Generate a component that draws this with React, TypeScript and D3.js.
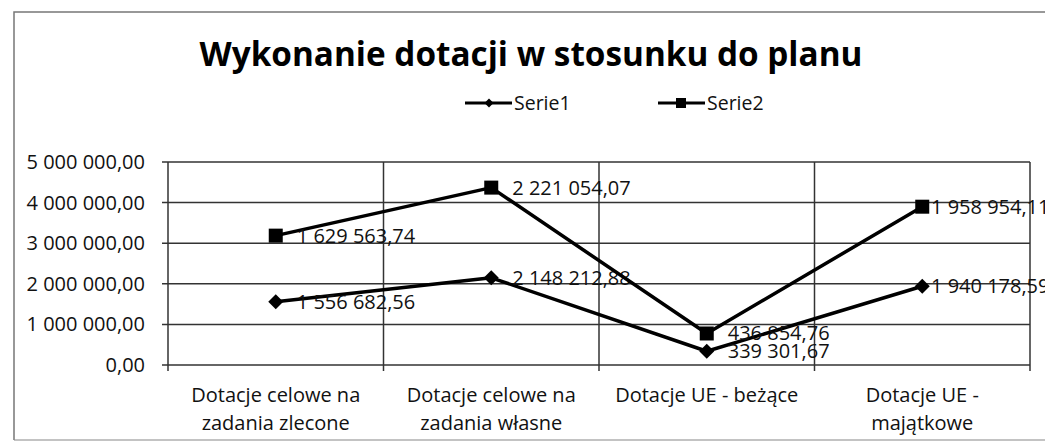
import React from "react";
import * as d3 from "d3";

const title = "Wykonanie dotacji w stosunku do planu";
const categories = [
  ["Dotacje celowe na", "zadania zlecone"],
  ["Dotacje celowe na", "zadania własne"],
  ["Dotacje UE - beżące"],
  ["Dotacje UE -", "majątkowe"],
];
const seriesNames = ["Serie1", "Serie2"];
const serie1 = [1556682.56, 2148212.88, 339301.67, 1940178.59];
const serie2 = [1629563.74, 2221054.07, 436854.76, 1958954.11];
const yTicks = [0, 1000000, 2000000, 3000000, 4000000, 5000000];

const W = 1045;
const H = 444;
const plot = { left: 168, right: 1030, top: 162, bottom: 365 };
const FONT = "'Open Sans', sans-serif";
const chartRight = 1047;
const labelW = 116;

const locale = d3.formatLocale({
  decimal: ",",
  thousands: " ",
  grouping: [3],
  currency: ["", ""],
});
const fmt = locale.format(",.2f");

export default function App() {
  const x = d3
    .scaleBand<number>()
    .domain(d3.range(categories.length))
    .range([plot.left, plot.right])
    .paddingInner(0)
    .paddingOuter(0);
  const y = d3.scaleLinear().domain([0, 5000000]).range([plot.bottom, plot.top]);

  const rows = categories.map((_, i) => ({ i, s1: serie1[i], s2: serie2[i] }));
  const stacked = d3.stack<any>().keys(["s1", "s2"])(rows);
  const rawVals = [serie1, serie2];

  const line = d3
    .line<[number, number]>()
    .x((d) => d[0])
    .y((d) => d[1]);

  const cx = (i: number) => (x(i) as number) + x.bandwidth() / 2;
  const boundaries = d3.range(categories.length + 1).map((i) =>
    i < categories.length ? (x(i) as number) : plot.right
  );

  const diamond = (px: number, py: number, r: number) =>
    `M${px},${py - r}L${px + r},${py}L${px},${py + r}L${px - r},${py}Z`;

  return (
    <svg
      width={W}
      height={H}
      style={{ position: "absolute", left: 0, top: 0, background: "#fff" }}
      fontFamily={FONT}
    >
      <rect x={0} y={0} width={W} height={H} fill="#fff" />
      {/* chart border */}
      <path d={`M14,${H - 4}L14,12L${W + 5},12`} fill="none" stroke="#777" strokeWidth={1.5} />
      <line x1={14} x2={W + 5} y1={H - 4} y2={H - 4} stroke="#888" strokeWidth={1.2} />

      <text x={531} y={66} textAnchor="middle" fontSize={33.3} fontWeight={700} fill="#000">
        {title}
      </text>

      {/* legend */}
      <g>
        <line x1={465} x2={512} y1={103} y2={103} stroke="#000" strokeWidth={3} />
        <path d={diamond(489, 103, 4.5)} fill="#000" />
        <text x={514} y={103} dy="0.35em" fontSize={19.5} fill="#111">
          {seriesNames[0]}
        </text>
        <line x1={658} x2={705} y1={103} y2={103} stroke="#000" strokeWidth={3} />
        <rect x={676} y={98} width={10} height={10} fill="#000" />
        <text x={707} y={103} dy="0.35em" fontSize={19.5} fill="#111">
          {seriesNames[1]}
        </text>
      </g>

      {/* horizontal gridlines + y labels */}
      {yTicks.map((t) => (
        <g key={t}>
          <line x1={plot.left - 6} x2={plot.right} y1={y(t)} y2={y(t)} stroke="#333" strokeWidth={1.5} />
          <text x={145} y={y(t)} dy="0.35em" textAnchor="end" fontSize={20} fill="#111">
            {fmt(t)}
          </text>
        </g>
      ))}
      {/* vertical gridlines */}
      {boundaries.map((bx, i) => (
        <line key={i} x1={bx} x2={bx} y1={plot.top} y2={plot.bottom + 6} stroke="#333" strokeWidth={1.5} />
      ))}

      {/* category labels */}
      {categories.map((lines, i) => (
        <text key={i} x={cx(i)} y={395} textAnchor="middle" fontSize={20} fill="#111">
          {lines.map((l, j) => (
            <tspan key={j} x={cx(i)} y={395 + j * 28} dy="0.35em">
              {l}
            </tspan>
          ))}
        </text>
      ))}

      {/* series */}
      {stacked.map((s, si) => {
        const pts: [number, number][] = s.map((d, i) => [cx(i), y(d[1])]);
        return (
          <g key={si}>
            <path d={line(pts) as string} fill="none" stroke="#000" strokeWidth={3.5} strokeLinejoin="round" />
            {pts.map(([px, py], i) =>
              si === 0 ? (
                <path key={i} d={diamond(px, py, 7.5)} fill="#000" />
              ) : (
                <rect key={i} x={px - 7} y={py - 7} width={14} height={14} fill="#000" />
              )
            )}
            {pts.map(([px, py], i) => {
              const lx = Math.min(px + 21, chartRight - labelW);
              return (
                <text key={"l" + i} x={lx} y={py} dy="0.35em" fontSize={20} fill="#111">
                  {fmt(rawVals[si][i])}
                </text>
              );
            })}
          </g>
        );
      })}
    </svg>
  );
}
